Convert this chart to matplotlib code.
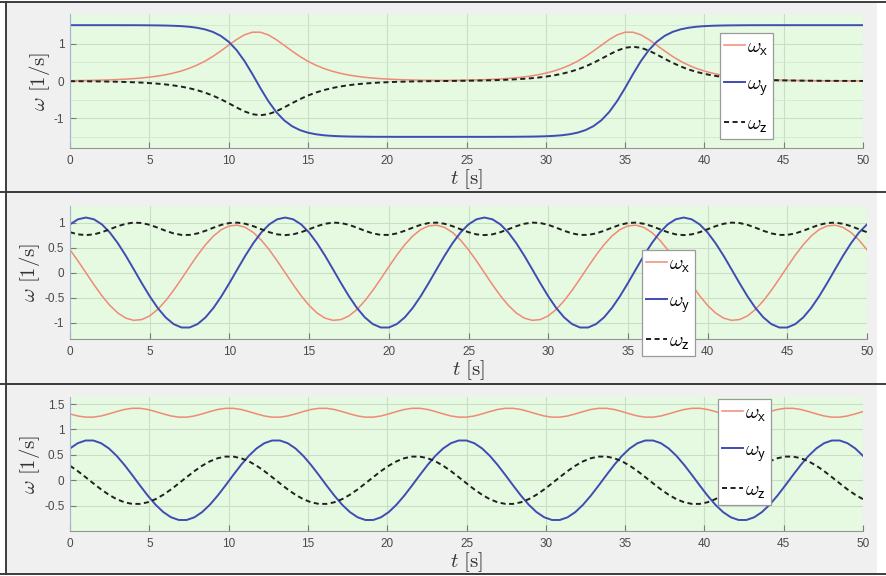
import numpy as np
import matplotlib
matplotlib.use('Agg')
import matplotlib.pyplot as plt
from matplotlib.patches import Rectangle
from matplotlib.lines import Line2D
from matplotlib.ticker import FormatStrFormatter, MultipleLocator

# sample times [s]
t1 = np.arange(0, 50.5, 0.5)
t2 = np.arange(0, 50.5, 0.5)
t3 = np.linspace(0, 50, 103)

# case 1: spin about the intermediate axis (flip)
wx1 = [0.009, 0.012, 0.015, 0.019, 0.025, 0.031, 0.040, 0.050, 0.064, 0.081,
       0.103, 0.131, 0.166, 0.211, 0.267, 0.338, 0.425, 0.531, 0.658, 0.804,
       0.960, 1.113, 1.239, 1.311, 1.311, 1.239, 1.113, 0.960, 0.804, 0.658,
       0.531, 0.425, 0.338, 0.267, 0.211, 0.166, 0.131, 0.103, 0.082, 0.065,
       0.052, 0.042, 0.034, 0.029, 0.024, 0.021, 0.019, 0.018, 0.019, 0.021,
       0.024, 0.029, 0.034, 0.042, 0.052, 0.065, 0.082, 0.103, 0.131, 0.166,
       0.211, 0.267, 0.338, 0.425, 0.531, 0.658, 0.804, 0.960, 1.113, 1.239,
       1.311, 1.311, 1.239, 1.113, 0.960, 0.804, 0.658, 0.531, 0.425, 0.338,
       0.267, 0.211, 0.166, 0.131, 0.103, 0.081, 0.064, 0.050, 0.040, 0.031,
       0.025, 0.019, 0.015, 0.012, 0.009, 0.007, 0.006, 0.005, 0.004, 0.003,
       0.002]
wy1 = [1.500, 1.500, 1.500, 1.500, 1.500, 1.500, 1.500, 1.499, 1.499, 1.498,
       1.496, 1.494, 1.490, 1.484, 1.474, 1.458, 1.431, 1.388, 1.320, 1.214,
       1.056, 0.832, 0.538, 0.187, -0.187, -0.538, -0.832, -1.056, -1.214, -1.320,
       -1.388, -1.431, -1.458, -1.474, -1.484, -1.490, -1.494, -1.496, -1.498, -1.499,
       -1.499, -1.500, -1.500, -1.500, -1.500, -1.500, -1.500, -1.500, -1.500, -1.500,
       -1.500, -1.500, -1.500, -1.500, -1.499, -1.499, -1.498, -1.496, -1.494, -1.490,
       -1.484, -1.474, -1.458, -1.431, -1.388, -1.320, -1.214, -1.056, -0.832, -0.538,
       -0.187, 0.187, 0.538, 0.832, 1.056, 1.214, 1.320, 1.388, 1.431, 1.458,
       1.474, 1.484, 1.490, 1.494, 1.496, 1.498, 1.499, 1.499, 1.500, 1.500,
       1.500, 1.500, 1.500, 1.500, 1.500, 1.500, 1.500, 1.500, 1.500, 1.500,
       1.500]
wz1 = [-0.005, -0.006, -0.008, -0.010, -0.012, -0.016, -0.020, -0.026, -0.034, -0.043,
       -0.056, -0.071, -0.091, -0.117, -0.150, -0.192, -0.245, -0.310, -0.391, -0.487,
       -0.596, -0.711, -0.816, -0.892, -0.920, -0.892, -0.816, -0.711, -0.596, -0.487,
       -0.391, -0.310, -0.245, -0.192, -0.150, -0.117, -0.091, -0.071, -0.055, -0.042,
       -0.033, -0.024, -0.018, -0.013, -0.009, -0.006, -0.004, -0.001, 0.001, 0.004,
       0.007, 0.010, 0.014, 0.019, 0.025, 0.033, 0.043, 0.056, 0.071, 0.091,
       0.117, 0.150, 0.192, 0.245, 0.310, 0.391, 0.487, 0.596, 0.711, 0.816,
       0.892, 0.920, 0.892, 0.816, 0.711, 0.596, 0.487, 0.391, 0.310, 0.245,
       0.192, 0.150, 0.117, 0.091, 0.071, 0.056, 0.043, 0.034, 0.026, 0.020,
       0.016, 0.012, 0.010, 0.008, 0.006, 0.005, 0.004, 0.003, 0.002, 0.002,
       0.001]

# case 2: precession with wz always positive
wx2 = [0.458, 0.236,
       0.000, -0.236, -0.458, -0.650, -0.802, -0.904, -0.948, -0.933, -0.860, -0.732, -0.558, -0.350, -0.119,
       0.119, 0.350, 0.558, 0.732, 0.860, 0.933, 0.948, 0.904, 0.802, 0.650, 0.458, 0.236,
       0.000, -0.236, -0.458, -0.650, -0.802, -0.904, -0.948, -0.933, -0.860, -0.732, -0.558, -0.350, -0.119,
       0.119, 0.350, 0.558, 0.732, 0.860, 0.933, 0.948, 0.904, 0.802, 0.650, 0.458, 0.236,
       0.000, -0.236, -0.458, -0.650, -0.802, -0.904, -0.948, -0.933, -0.860, -0.732, -0.558, -0.350, -0.119,
       0.119, 0.350, 0.558, 0.732, 0.860, 0.933, 0.948, 0.904, 0.802, 0.650, 0.458, 0.236,
       0.000, -0.236, -0.458, -0.650, -0.802, -0.904, -0.948, -0.933, -0.860, -0.732, -0.558, -0.350, -0.119,
       0.119, 0.350, 0.558, 0.732, 0.860, 0.933, 0.948, 0.904, 0.802, 0.650, 0.458]
wy2 = [0.964, 1.065,
       1.100, 1.065, 0.964, 0.802, 0.589, 0.340, 0.069, -0.206, -0.468, -0.701, -0.890, -1.023, -1.091,
       -1.091, -1.023, -0.890, -0.701, -0.468, -0.206, 0.069, 0.340, 0.589, 0.802, 0.964, 1.065,
       1.100, 1.065, 0.964, 0.802, 0.589, 0.340, 0.069, -0.206, -0.468, -0.701, -0.890, -1.023, -1.091,
       -1.091, -1.023, -0.890, -0.701, -0.468, -0.206, 0.069, 0.340, 0.589, 0.802, 0.964, 1.065,
       1.100, 1.065, 0.964, 0.802, 0.589, 0.340, 0.069, -0.206, -0.468, -0.701, -0.890, -1.023, -1.091,
       -1.091, -1.023, -0.890, -0.701, -0.468, -0.206, 0.069, 0.340, 0.589, 0.802, 0.964, 1.065,
       1.100, 1.065, 0.964, 0.802, 0.589, 0.340, 0.069, -0.206, -0.468, -0.701, -0.890, -1.023, -1.091,
       -1.091, -1.023, -0.890, -0.701, -0.468, -0.206, 0.069, 0.340, 0.589, 0.802, 0.964]
wz2 = [0.808, 0.765,
       0.750, 0.765, 0.808, 0.867, 0.928, 0.976, 0.999, 0.991, 0.955, 0.898, 0.836, 0.784, 0.754,
       0.754, 0.784, 0.836, 0.898, 0.955, 0.991, 0.999, 0.976, 0.928, 0.867, 0.808, 0.765,
       0.750, 0.765, 0.808, 0.867, 0.928, 0.976, 0.999, 0.991, 0.955, 0.898, 0.836, 0.784, 0.754,
       0.754, 0.784, 0.836, 0.898, 0.955, 0.991, 0.999, 0.976, 0.928, 0.867, 0.808, 0.765,
       0.750, 0.765, 0.808, 0.867, 0.928, 0.976, 0.999, 0.991, 0.955, 0.898, 0.836, 0.784, 0.754,
       0.754, 0.784, 0.836, 0.898, 0.955, 0.991, 0.999, 0.976, 0.928, 0.867, 0.808, 0.765,
       0.750, 0.765, 0.808, 0.867, 0.928, 0.976, 0.999, 0.991, 0.955, 0.898, 0.836, 0.784, 0.754,
       0.754, 0.784, 0.836, 0.898, 0.955, 0.991, 0.999, 0.976, 0.928, 0.867, 0.808]

# case 3: precession with wx always positive
wx3 = [1.307, 1.266, 1.243, 1.243, 1.266, 1.307, 1.353, 1.394, 1.417, 1.417, 1.394, 1.353,
       1.307, 1.266, 1.243, 1.243, 1.266, 1.307, 1.353, 1.394, 1.417, 1.417, 1.394, 1.353,
       1.307, 1.266, 1.243, 1.243, 1.266, 1.307, 1.353, 1.394, 1.417, 1.417, 1.394, 1.353,
       1.307, 1.266, 1.243, 1.243, 1.266, 1.307, 1.353, 1.394, 1.417, 1.417, 1.394, 1.353,
       1.307, 1.266, 1.243, 1.243, 1.266, 1.307, 1.353, 1.394, 1.417, 1.417, 1.394, 1.353,
       1.307, 1.266, 1.243, 1.243, 1.266, 1.307, 1.353, 1.394, 1.417, 1.417, 1.394, 1.353,
       1.307, 1.266, 1.243, 1.243, 1.266, 1.307, 1.353, 1.394, 1.417, 1.417, 1.394, 1.353,
       1.307, 1.266, 1.243, 1.243, 1.266, 1.307, 1.353, 1.394, 1.417, 1.417, 1.394, 1.353,
       1.307, 1.266, 1.243, 1.243, 1.266, 1.307, 1.353]
wy3 = [0.627, 0.730, 0.783, 0.783, 0.730, 0.627, 0.481, 0.302, 0.103, -0.103, -0.302, -0.481,
       -0.627, -0.730, -0.783, -0.783, -0.730, -0.627, -0.481, -0.302, -0.103, 0.103, 0.302, 0.481,
       0.627, 0.730, 0.783, 0.783, 0.730, 0.627, 0.481, 0.302, 0.103, -0.103, -0.302, -0.481,
       -0.627, -0.730, -0.783, -0.783, -0.730, -0.627, -0.481, -0.302, -0.103, 0.103, 0.302, 0.481,
       0.627, 0.730, 0.783, 0.783, 0.730, 0.627, 0.481, 0.302, 0.103, -0.103, -0.302, -0.481,
       -0.627, -0.730, -0.783, -0.783, -0.730, -0.627, -0.481, -0.302, -0.103, 0.103, 0.302, 0.481,
       0.627, 0.730, 0.783, 0.783, 0.730, 0.627, 0.481, 0.302, 0.103, -0.103, -0.302, -0.481,
       -0.627, -0.730, -0.783, -0.783, -0.730, -0.627, -0.481, -0.302, -0.103, 0.103, 0.302, 0.481,
       0.627, 0.730, 0.783, 0.783, 0.730, 0.627, 0.481]
wz3 = [0.286, 0.180, 0.061, -0.061, -0.180, -0.286, -0.373, -0.434, -0.466, -0.466, -0.434, -0.373,
       -0.286, -0.180, -0.061, 0.061, 0.180, 0.286, 0.373, 0.434, 0.466, 0.466, 0.434, 0.373,
       0.286, 0.180, 0.061, -0.061, -0.180, -0.286, -0.373, -0.434, -0.466, -0.466, -0.434, -0.373,
       -0.286, -0.180, -0.061, 0.061, 0.180, 0.286, 0.373, 0.434, 0.466, 0.466, 0.434, 0.373,
       0.286, 0.180, 0.061, -0.061, -0.180, -0.286, -0.373, -0.434, -0.466, -0.466, -0.434, -0.373,
       -0.286, -0.180, -0.061, 0.061, 0.180, 0.286, 0.373, 0.434, 0.466, 0.466, 0.434, 0.373,
       0.286, 0.180, 0.061, -0.061, -0.180, -0.286, -0.373, -0.434, -0.466, -0.466, -0.434, -0.373,
       -0.286, -0.180, -0.061, 0.061, 0.180, 0.286, 0.373, 0.434, 0.466, 0.466, 0.434, 0.373,
       0.286, 0.180, 0.061, -0.061, -0.180, -0.286, -0.373]

plt.rcParams['mathtext.fontset'] = 'cm'
plt.rcParams['axes.unicode_minus'] = False
plt.rcParams['font.family'] = ['Liberation Sans', 'DejaVu Sans']

W, H = 886, 576
fig = plt.figure(figsize=(W / 100, H / 100), dpi=100)

# grey panel backgrounds with dark separators
for top, bot in [(1.5, 191.5), (191.5, 384.0), (384.0, 573.5)]:
    fig.add_artist(Rectangle((5.5 / W, 1 - bot / H), (877 - 5.5) / W, (bot - top) / H,
                             transform=fig.transFigure, fc='#f0f0f0', ec='none', zorder=0))
for y in [1.5, 191.5, 384.0, 573.5]:
    fig.add_artist(Line2D([0, 1], [1 - y / H] * 2, transform=fig.transFigure,
                          color='#3c3c3c', lw=1.4))
fig.add_artist(Line2D([5.5 / W] * 2, [1 - 1.5 / H, 1 - 573.5 / H],
                      transform=fig.transFigure, color='#3c3c3c', lw=1.4))


def add_panel(box, t, wx, wy, wz, ylim, yticks, leg_xy, minor=None):
    x0, y0, x1, y1 = box
    ax = fig.add_axes([x0 / W, 1 - y1 / H, (x1 - x0) / W, (y1 - y0) / H])
    ax.set_facecolor('#e6f9e1')
    ax.plot(t, wx, color='#f08a76', lw=1.1, label=r'$\omega_{\mathsf{x}}$')
    ax.plot(t, wy, color='#3f4cb3', lw=1.4, label=r'$\omega_{\mathsf{y}}$')
    ax.plot(t, wz, color='#202020', lw=1.4, ls=(0, (2.6, 1.8)), label=r'$\omega_{\mathsf{z}}$')
    ax.set_xlim(0, 50)
    ax.set_ylim(*ylim)
    ax.set_xticks(np.arange(0, 51, 5))
    ax.set_yticks(yticks)
    ax.yaxis.set_major_formatter(FormatStrFormatter('%g'))
    if minor:
        ax.yaxis.set_minor_locator(MultipleLocator(minor))
        ax.grid(True, which='minor', axis='y', color='#d4e7d0', lw=0.6)
    ax.grid(True, which='major', color='#cadec6', lw=0.8)
    ax.set_axisbelow(True)
    ax.tick_params(which='major', direction='in', length=4, width=0.8, colors='#7a7a7a',
                   labelcolor='#4a4a4a', labelsize=8.5)
    ax.tick_params(axis='x', pad=5)
    ax.tick_params(axis='y', pad=4)
    ax.tick_params(which='minor', length=0)
    for s in ('top', 'right'):
        ax.spines[s].set_visible(False)
    ax.spines['left'].set_color('#a4b2da')
    ax.spines['bottom'].set_color('#8f9a8f')
    ax.set_xlabel(r'$t\ [\mathrm{s}]$', fontsize=15, color='#333333')
    ax.xaxis.set_label_coords(0.5, -19 / (y1 - y0))
    ax.set_ylabel(r'$\omega\ [1/\mathrm{s}]$', fontsize=15, color='#333333', labelpad=1.5)
    leg = ax.legend(loc='upper left', bbox_to_anchor=leg_xy, fontsize=15, frameon=True,
                    fancybox=False, framealpha=1, edgecolor='#9a9a9a', borderaxespad=0,
                    borderpad=0.2, handlelength=1.0, handletextpad=0.1, labelspacing=0.8)
    leg.get_frame().set_linewidth(0.9)
    return ax


add_panel((70, 14, 863, 148), t1, wx1, wy1, wz1, (-1.8, 1.8), [-1, 0, 1], (0.82, 0.858), minor=0.5)
add_panel((70, 206, 867, 339), t2, wx2, wy2, wz2, (-1.32, 1.33), [-1, -0.5, 0, 0.5, 1], (0.718, 0.669))
add_panel((70, 397, 863, 531), t3, wx3, wy3, wz3, (-1.0, 1.64), [-0.5, 0, 0.5, 1, 1.5], (0.817, 0.985))

fig.savefig('out.png', dpi=100)
